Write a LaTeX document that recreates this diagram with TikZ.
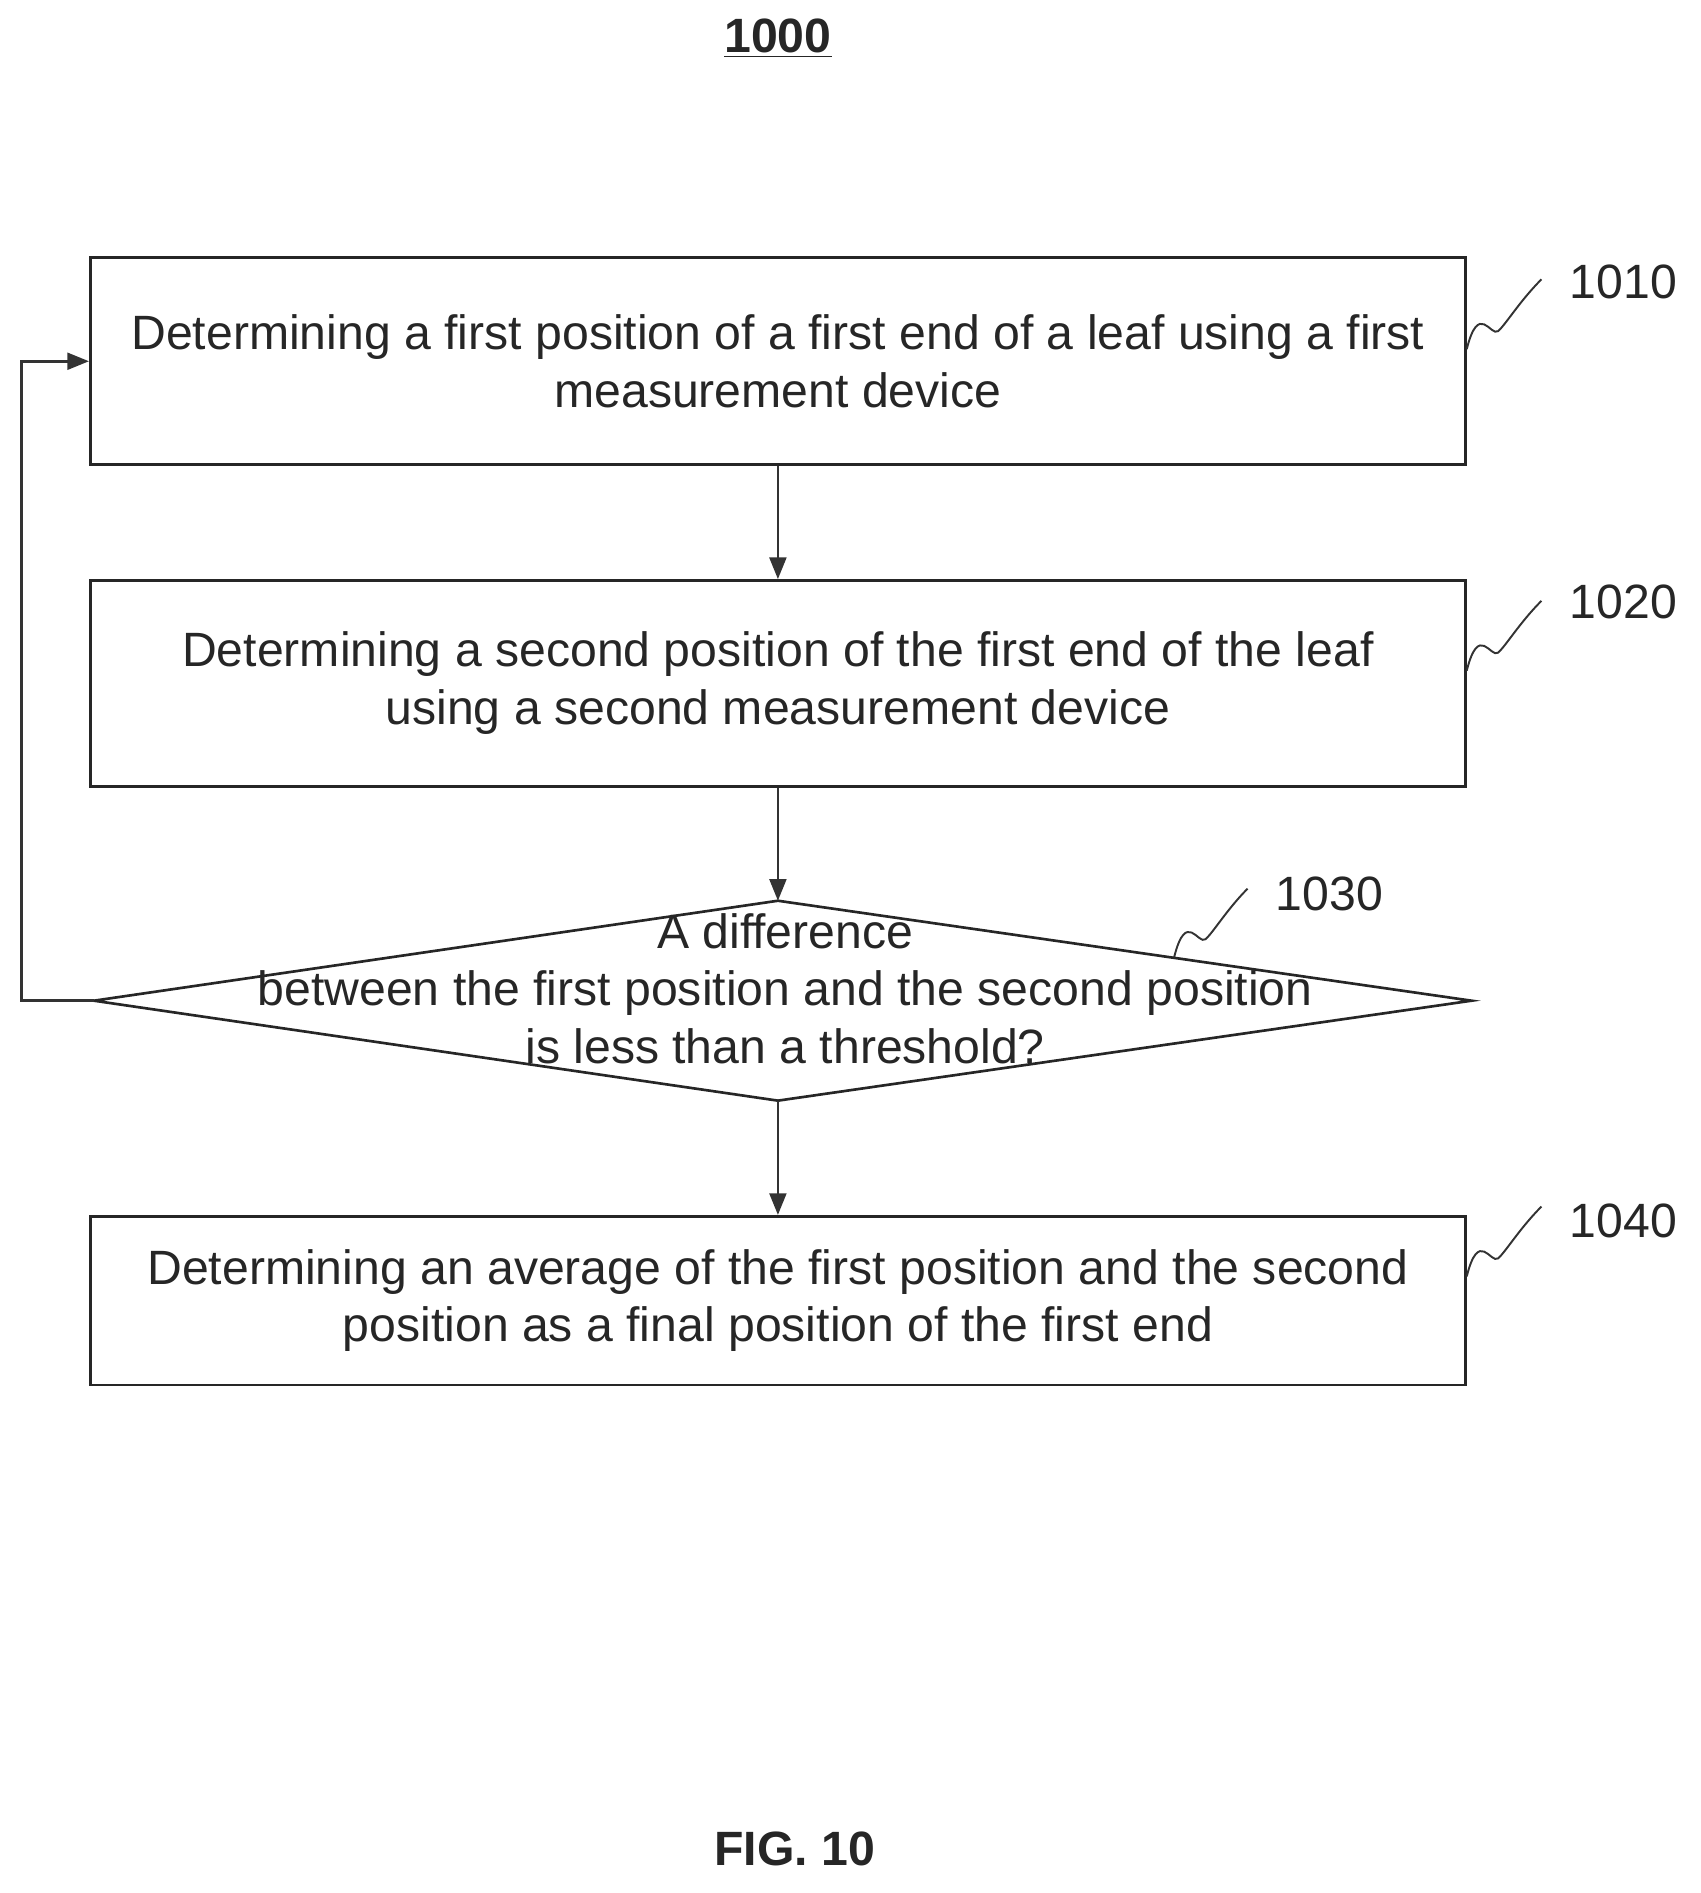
\documentclass[tikz,border=0pt]{standalone}
\usepackage{fontspec}
\setmainfont{Liberation Sans}
\usetikzlibrary{arrows.meta}
\begin{document}
\begin{tikzpicture}[x=0.5pt,y=-0.5pt,
  box/.style={draw=black!85,line width=1.1pt,minimum width=571pt,inner sep=0pt,align=center,text=black!85,font=\fontsize{20}{24}\selectfont},
  lbl/.style={text=black!85,font=\fontsize{20}{24}\selectfont},
  arr/.style={draw=black!80,line width=1.1pt,-{Triangle[length=9pt,width=7pt]}},
  sq/.style={draw=black!80,line width=0.8pt}]
\useasboundingbox (0,0) rectangle (1412,1572);
\node[font=\bfseries\fontsize{20}{24}\selectfont,text=black!85] (title) at (646,32) {\underline{1000}};
\node[box,minimum height=86pt] (b1) at (646,300) {Determining a first position of a first end of a leaf using a first\\measurement device};
\node[box,minimum height=85.5pt] (b2) at (646,567.5) {Determining a second position of the first end of the leaf\\using a second measurement device};
\coordinate (dt) at (646,748); \coordinate (dl) at (78,831);
\coordinate (dr) at (1222,831); \coordinate (db) at (646,914);
\draw[draw=black!85,line width=1.1pt] (dt)--(dr)--(db)--(dl)--cycle;
\node[align=center,text=black!85,font=\fontsize{20}{24}\selectfont] (dtext) at (652,821) {A difference\\between the first position and the second position\\is less than a threshold?};
\node[box,minimum height=70pt] (b4) at (646,1080) {Determining an average of the first position and the second\\position as a final position of the first end};
\draw[arr] (b1.south) -- (b2.north);
\draw[arr] (b2.south) -- (dt);
\draw[arr] (db) -- (b4.north);
\draw[arr] (dl) -- (18,831) -- (18,300) -- (b1.west);
\node[lbl] (l1) at (1348,234) {1010};
\node[lbl] (l2) at (1348,500) {1020};
\node[lbl] (l3) at (1104,742) {1030};
\node[lbl] (l4) at (1348,1014) {1040};
\foreach \y in {290,557,1060}{
  \draw[sq] (1218,\y) .. controls (1228,\y-40) and (1238,\y-10) .. (1244,\y-15) .. controls (1250,\y-20) and (1262,\y-40) .. (1280,\y-58);}
\draw[sq] (975,795) .. controls (985,755) and (995,785) .. (1001,780) .. controls (1007,775) and (1019,755) .. (1036,738);
\node[font=\bfseries\fontsize{20}{24}\selectfont,text=black!85] (fig) at (660,1535) {FIG. 10};
\end{tikzpicture}
\end{document}
